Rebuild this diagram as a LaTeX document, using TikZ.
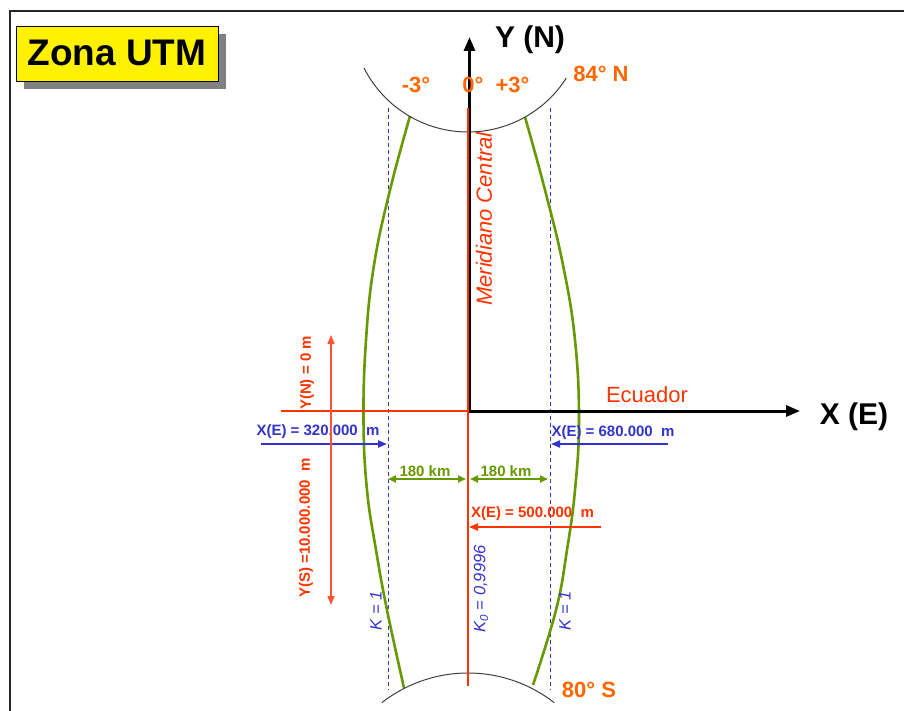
\documentclass[tikz,border=0pt]{standalone}
\usepackage{fontspec}
\setmainfont{Liberation Sans}
\usetikzlibrary{arrows.meta}
\definecolor{ured}{HTML}{FF3300}
\definecolor{lred}{HTML}{FF5533}
\definecolor{uorange}{HTML}{FF6600}
\definecolor{ublue}{HTML}{3333CC}
\definecolor{ugreen}{HTML}{669900}
\definecolor{ushadow}{HTML}{808080}
\begin{document}
\begin{tikzpicture}[x=1pt,y=-1pt,
  every node/.style={inner sep=0pt,outer sep=0pt},
  frameline/.style={line width=2.4pt,draw=black!85},
  axisline/.style={line width=3pt,black,-{Triangle[length=14pt,width=11pt]}},
  meridian/.style={line width=2.6pt,ured},
  zoneedge/.style={line width=2.6pt,ugreen},
  kline/.style={line width=0.9pt,ublue,dash pattern=on 4pt off 3pt},
  polearc/.style={line width=1pt,black!75},
  barrow/.style={line width=2pt,ublue,-{Triangle[length=9pt,width=7pt]}},
  rarrow/.style={line width=2pt,ured,-{Triangle[length=9pt,width=7pt]}},
  garrow/.style={line width=2pt,ugreen,{Triangle[length=8pt,width=7pt]}-{Triangle[length=8pt,width=7pt]}},
  varrow/.style={line width=1.3pt,lred,{Triangle[length=9pt,width=7pt]}-{Triangle[length=9pt,width=7pt]}},
  smalllbl/.style={font=\bfseries\fontsize{15}{15}\selectfont},
  deglbl/.style={font=\bfseries\fontsize{22}{22}\selectfont,text=uorange},
  axislbl/.style={font=\bfseries\fontsize{30}{30}\selectfont},
  klbl/.style={font=\itshape\fontsize{16.5}{16.5}\selectfont,text=ublue,rotate=90}
]
\useasboundingbox (0,0) rectangle (904,711);
% frame
\draw[frameline] (10,711) -- (10,11) -- (904,11);
% title
\fill[ushadow] (24,34) rectangle (226,89);
\node[draw=black,line width=0.9pt,fill=yellow,minimum width=202pt,minimum height=55pt] (titlebox) at (117,53.5) {};
\node[font=\bfseries\fontsize{37}{40}\selectfont,anchor=base] (title) at (117,66) {Zona UTM};
% K=1 dashed lines
\draw[kline] (388,108) -- (388,690);
\draw[kline] (550,108) -- (550,690);
% zone edges
\draw[zoneedge] plot[smooth,tension=0.7] coordinates {(410,116) (390,190) (374,265) (366,340) (363.5,420) (367,490) (376,550) (387,610) (404,688)};
\draw[zoneedge] plot[smooth,tension=0.7] coordinates {(525,117) (545,190) (563,265) (575,340) (579,420) (575,490) (567,550) (556,610) (533,685)};
% pole arcs
\draw[polearc] plot[domain=206.8:327.5,samples=60] ({468+116.5*cos(\x)},{15.5-116.5*sin(\x)});
\draw[polearc] plot[domain=52:128,samples=60] ({468+140*cos(\x)},{813-140*sin(\x)});
% axes
\coordinate (O) at (469.5,411);
\coordinate (ytip) at (469.5,37);
\coordinate (xtip) at (800,411);
\draw[axisline] (O) -- (ytip);
\draw[axisline] (468,411) -- (xtip);
% central meridian and equator
\coordinate (mtop) at (468,108);
\coordinate (mbot) at (468,686);
\draw[meridian] (mtop) -- (mbot);
\coordinate (eqw) at (281,411);
\coordinate (eqe) at (468,411);
\draw[line width=2.4pt,ured] (eqw) -- (eqe);
% axis labels
\node[axislbl,anchor=base] (ylbl) at (530,48) {Y (N)};
\node[axislbl,anchor=base] (xlbl) at (854,424) {X (E)};
\node[font=\fontsize{22}{22}\selectfont,text=ured,anchor=base] (ecu) at (647,402) {Ecuador};
\node[font=\itshape\fontsize{22}{22}\selectfont,text=ured,rotate=90] (mc) at (484,219) {Meridiano Central};
% degree labels
\node[deglbl,anchor=base] (dm3) at (416,93) {-3°};
\node[deglbl,anchor=base] (d0) at (473,93) {0°};
\node[deglbl,anchor=base] (dp3) at (512.5,93) {+3°};
\node[deglbl,anchor=base] (d84) at (601,82) {84° N};
\node[deglbl,anchor=base] (d80) at (589,697) {80° S};
% blue arrows
\coordinate (b1s) at (261,444); \coordinate (b1e) at (387,444);
\draw[barrow] (b1s) -- (b1e);
\node[smalllbl,text=ublue,anchor=base] (x320) at (318,435) {X(E) = 320.000~ m};
\coordinate (b2s) at (668,444); \coordinate (b2e) at (551,444);
\draw[barrow] (b2s) -- (b2e);
\node[smalllbl,text=ublue,anchor=base] (x680) at (613,436) {X(E) = 680.000~ m};
% green 180 km
\coordinate (g1a) at (388,479); \coordinate (g1b) at (466,479);
\coordinate (g2a) at (470,479); \coordinate (g2b) at (548,479);
\draw[garrow] (g1a) -- (g1b);
\draw[garrow] (g2a) -- (g2b);
\node[smalllbl,text=ugreen,anchor=base] (k1) at (425,476) {180 km};
\node[smalllbl,text=ugreen,anchor=base] (k2) at (506,476) {180 km};
% red 500.000
\coordinate (r1s) at (601,527); \coordinate (r1e) at (469,527);
\draw[rarrow] (r1s) -- (r1e);
\node[smalllbl,text=ured,anchor=base] (x500) at (532.5,517) {X(E) = 500.000~ m};
% left vertical arrow
\coordinate (vtop) at (331,335); \coordinate (vbot) at (331,605);
\draw[varrow] (vbot) -- (vtop);
\node[smalllbl,text=ured,rotate=90] (yn) at (307,373) {Y(N) = 0 m};
\node[smalllbl,text=ured,rotate=90] (ys) at (306,528) {Y(S) =10.000.000~ m};
% K labels
\node[klbl] (kl) at (376,611) {K = 1};
\node[klbl] (kr) at (565,611) {K = 1};
\node[klbl] (k0) at (481,589) {K\textsubscript{0} = 0,9996};
\end{tikzpicture}
\end{document}
